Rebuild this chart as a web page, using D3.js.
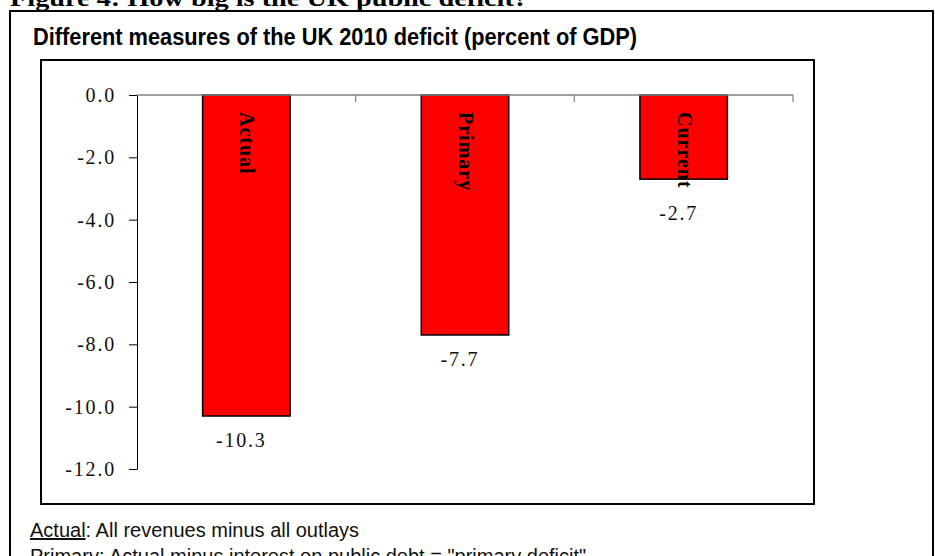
<!DOCTYPE html>
<html>
<head>
<meta charset="utf-8">
<script src="https://cdnjs.cloudflare.com/ajax/libs/d3/7.8.5/d3.min.js"></script>
<style>
body{margin:0;background:#fff;}
svg{display:block;}
.serif{font-family:"Liberation Serif","Times New Roman",serif;}
.narrow{font-family:"Liberation Sans Narrow","Arial Narrow","Liberation Sans",Arial,sans-serif;}
</style>
</head>
<body>
<svg></svg>
<script>
// values
var measures = ["Actual","Primary","Current"]
var deficit = [-10.3,-7.7,-2.7]
var yTicks = [0,-2,-4,-6,-8,-10,-12]

var figTitle = "Figure 4: How big is the UK public deficit?"
var chartTitle = "Different measures of the UK 2010 deficit (percent of GDP)"
var notes = [
    {key:"Actual", text:": All revenues minus all outlays"},
    {key:"Primary", text:": Actual minus interest on public debt = \"primary deficit\""}
]

var screen = {width:935, height:556}
var plot = {left:137, right:793, top:95, bottom:469}

var svg = d3.select("svg")
    .attr("width",screen.width)
    .attr("height",screen.height)

//figure heading, mostly cut off at the top
svg.append("text")
    .classed("serif",true)
    .attr("x",10)
    .attr("y",6)
    .attr("font-size",24)
    .attr("font-weight","bold")
    .attr("textLength",518)
    .attr("lengthAdjust","spacingAndGlyphs")
    .text(figTitle)

//outer frame
svg.append("rect")
    .attr("x",10)
    .attr("y",11)
    .attr("width",923)
    .attr("height",600)
    .attr("fill","none")
    .attr("stroke","black")
    .attr("stroke-width",2)

svg.append("text")
    .classed("narrow",true)
    .attr("x",33)
    .attr("y",45)
    .attr("font-size",23)
    .attr("font-weight","bold")
    .attr("textLength",604)
    .attr("lengthAdjust","spacingAndGlyphs")
    .text(chartTitle)

//chart area frame
svg.append("rect")
    .attr("x",41)
    .attr("y",60)
    .attr("width",773)
    .attr("height",444)
    .attr("fill","white")
    .attr("stroke","black")
    .attr("stroke-width",2)

var xScale = d3.scaleBand()
    .domain(measures)
    .range([plot.left,plot.right])

var yScale = d3.scaleLinear()
    .domain([-12,0])
    .range([plot.bottom,plot.top])

var yAxis = d3.axisLeft(yScale)
    .tickValues(yTicks)
    .tickSize(8)
    .tickSizeOuter(0)
    .tickPadding(13)
    .tickFormat(function(d){return d.toFixed(1)})

var yG = svg.append("g")
    .attr("id","yAxis")
    .attr("transform","translate("+plot.left+",0)")
    .call(yAxis)

yG.select(".domain").attr("stroke","black")
yG.selectAll("text")
    .classed("serif",true)
    .attr("font-family",null)
    .attr("font-size",20)
    .attr("fill","#111")
    .attr("letter-spacing","1.8px")

var bars = svg.append("g").attr("id","bars")
var bw = xScale.bandwidth()*0.4

bars.selectAll("rect")
    .data(deficit)
    .enter()
    .append("rect")
    .attr("x",function(d,i){return xScale(measures[i]) + (xScale.bandwidth()-bw)/2})
    .attr("y",yScale(0))
    .attr("width",bw)
    .attr("height",function(d){return yScale(d)-yScale(0)})
    .attr("fill","#ff0000")
    .attr("stroke","black")
    .attr("stroke-width",1.5)

//category axis along the zero line
var xG = svg.append("g").attr("id","xAxis")
xG.append("line")
    .attr("x1",plot.left)
    .attr("x2",plot.right)
    .attr("y1",yScale(0))
    .attr("y2",yScale(0))
    .attr("stroke","#808080")
    .attr("stroke-width",1.5)

var edges = measures.slice(1).map(function(m){return xScale(m)}).concat([plot.right])
xG.selectAll(".tick")
    .data(edges)
    .enter()
    .append("line")
    .attr("x1",function(d){return d})
    .attr("x2",function(d){return d})
    .attr("y1",yScale(0))
    .attr("y2",yScale(0)+7)
    .attr("stroke","#808080")
    .attr("stroke-width",1.2)

//names written down inside the bars
var nameEnds = []
bars.selectAll(".name")
    .data(measures)
    .enter()
    .append("text")
    .classed("serif",true)
    .attr("transform",function(d){
        var cx = xScale(d)+xScale.bandwidth()/2
        return "translate("+cx+","+(yScale(0)+17)+") rotate(90)"
    })
    .attr("y",6)
    .attr("font-size",20)
    .attr("font-weight","bold")
    .attr("letter-spacing","1px")
    .text(function(d){return d})
    .each(function(d){ nameEnds.push(yScale(0)+17+this.getComputedTextLength()) })

bars.selectAll(".val")
    .data(deficit)
    .enter()
    .append("text")
    .classed("serif",true)
    .attr("x",function(d,i){return xScale(measures[i])+xScale.bandwidth()/2-5})
    .attr("y",function(d,i){return Math.max(yScale(d),nameEnds[i])+31})
    .attr("text-anchor","middle")
    .attr("font-size",20)
    .attr("fill","#111")
    .attr("letter-spacing","1.8px")
    .text(function(d){return d.toFixed(1)})

//footnotes under the chart
var nt = svg.selectAll(".note")
    .data(notes)
    .enter()
    .append("text")
    .classed("narrow",true)
    .attr("x",30)
    .attr("y",function(d,i){return 537+i*26})
    .attr("font-size",20)
    .attr("fill","#111")

nt.append("tspan")
    .style("text-decoration","underline")
    .text(function(d){return d.key})
nt.append("tspan")
    .text(function(d){return d.text})
</script>
</body>
</html>
